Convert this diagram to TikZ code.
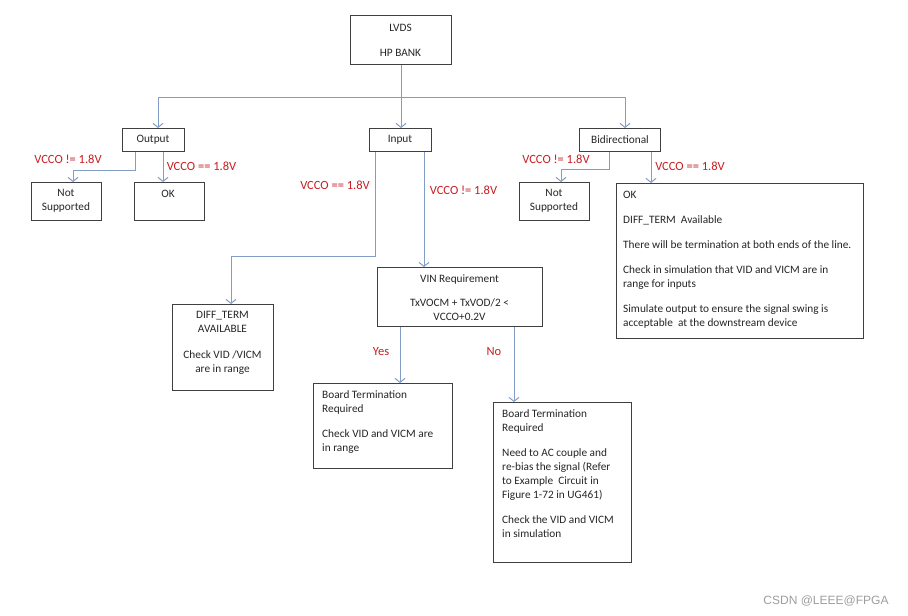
\documentclass[tikz,border=0pt]{standalone}
\usepackage{fontspec}
\setmainfont{Carlito}
\newfontfamily\wmfont{Liberation Sans}
\usetikzlibrary{arrows.meta}
\definecolor{conncol}{RGB}{130,158,198}
\definecolor{labred}{RGB}{200,30,35}
\definecolor{boxline}{RGB}{64,64,64}
\tikzset{
  box/.style={draw=boxline, line width=1pt, rectangle, inner sep=0pt, anchor=north west},
  conn/.style={draw=conncol, line width=1pt, -{Straight Barb[length=4pt,width=10pt,line width=1pt]}},
  plain/.style={draw=conncol, line width=1pt},
  txt/.style={font=\fontsize{11.3}{14}\selectfont, inner sep=0pt, text=black!85},
  ctxt/.style={txt, align=center},
  ltxt/.style={txt, align=left, anchor=north west},
  lab/.style={font=\fontsize{12.5}{14}\selectfont, text=labred, inner sep=0pt},
}
\begin{document}
\begin{tikzpicture}[x=1pt,y=-1pt]
\useasboundingbox[fill=white] (0,0) rectangle (908,616);

% boxes
\node[box, minimum width=101pt, minimum height=49pt] (lvds) at (350,15) {};
\node[box, minimum width=62pt, minimum height=23pt] (out) at (122,128) {};
\node[box, minimum width=62pt, minimum height=23pt] (inp) at (369,128) {};
\node[box, minimum width=81pt, minimum height=23pt] (bid) at (579,128) {};
\node[box, minimum width=70pt, minimum height=38pt] (ns1) at (31,182) {};
\node[box, minimum width=70pt, minimum height=38pt] (ok1) at (134,182) {};
\node[box, minimum width=70pt, minimum height=38pt] (ns2) at (519,182) {};
\node[box, minimum width=247pt, minimum height=155pt] (ok2) at (616,183) {};
\node[box, minimum width=101pt, minimum height=86pt] (diff) at (172,304) {};
\node[box, minimum width=165pt, minimum height=59pt] (vin) at (377,267) {};
\node[box, minimum width=139pt, minimum height=85pt] (bty) at (313,383) {};
\node[box, minimum width=138pt, minimum height=160pt] (btn) at (493,402) {};

% texts
\node[ctxt] (tlvds1) at (400.5,28) {LVDS};
\node[ctxt] (tlvds2) at (400.5,53) {HP BANK};
\node[ctxt] (tout) at (153,140) {Output};
\node[ctxt] (tinp) at (400,140) {Input};
\node[ctxt] (tbid) at (620,140) {Bidirectional};
\node[ctxt, anchor=north] (tns1) at (66,189.5) {Not\\Supported};
\node[ctxt, anchor=north] (tok1) at (168,189.5) {OK};
\node[ctxt, anchor=north] (tns2) at (554,189.5) {Not\\Supported};
\node[ltxt] (tok2) at (623,190.5) {OK\\[11pt]DIFF\_TERM\ \ Available\\[11pt]There\ will be termination at both ends of the line.\\[11pt]Check in simulation that VID and VICM are in\\range for inputs\\[11pt]Simulate output to ensure the signal swing is\\acceptable\ \ at the downstream device};
\node[ctxt, anchor=north] (tdiff) at (222.5,311.5) {DIFF\_TERM\\AVAILABLE\\[12pt]Check VID /VICM\\are in range};
\node[ctxt, anchor=north] (tvin) at (459.5,274.5) {VIN Requirement\\[10pt]TxVOCM + TxVOD/2 {<}\\VCCO+0.2V};
\node[ltxt] (tbty) at (322,390.5) {Board Termination\\Required\\[11pt]Check VID and VICM are\\in range};
\node[ltxt] (tbtn) at (502,409.5) {Board Termination\\Required\\[11pt]Need to AC couple and\\re-bias the signal (Refer\\to Example\ \ Circuit in\\Figure 1-72 in UG461)\\[11pt]Check the VID and VICM\\in simulation};

% coordinates for connector x positions
\coordinate (xout) at (158,0);
\coordinate (xbid) at (625,0);
\coordinate (xlvds) at (401,0);
\coordinate (xo1) at (135,0);
\coordinate (xns1) at (73,0);
\coordinate (xo2) at (163,0);
\coordinate (xi1) at (375,0);
\coordinate (xdiff) at (231,0);
\coordinate (xi2) at (424,0);
\coordinate (xb1) at (609,0);
\coordinate (xns2) at (561,0);
\coordinate (xb2) at (651,0);
\coordinate (xy) at (400,0);
\coordinate (xn) at (514,0);
\coordinate (ytop) at (0,97);
\coordinate (yo) at (0,170);
\coordinate (yb) at (0,169);
\coordinate (yi) at (0,256);

% connectors
\draw[conn] (lvds.south -| xlvds) -- (inp.north -| xlvds);
\draw[plain] (ytop -| xout) -- (ytop -| xbid);
\draw[conn] (ytop -| xout) -- (out.north -| xout);
\draw[conn] (ytop -| xbid) -- (bid.north -| xbid);
\draw[conn] (out.south -| xo1) -- (yo -| xo1) -- (yo -| xns1) -- (ns1.north -| xns1);
\draw[conn] (out.south -| xo2) -- (ok1.north -| xo2);
\draw[conn] (inp.south -| xi1) -- (yi -| xi1) -- (yi -| xdiff) -- (diff.north -| xdiff);
\draw[conn] (inp.south -| xi2) -- (vin.north -| xi2);
\draw[conn] (bid.south -| xb1) -- (yb -| xb1) -- (yb -| xns2) -- (ns2.north -| xns2);
\draw[conn] (bid.south -| xb2) -- (ok2.north -| xb2);
\draw[conn] (vin.south -| xy) -- (bty.north -| xy);
\draw[conn] (vin.south -| xn) -- (btn.north -| xn);

% labels
\node[lab] (l1) at (68,159.5) {VCCO != 1.8V};
\node[lab] (l2) at (201.5,166.5) {VCCO == 1.8V};
\node[lab] (l3) at (335,185.5) {VCCO == 1.8V};
\node[lab] (l4) at (463.5,190.5) {VCCO != 1.8V};
\node[lab] (l5) at (556,159.5) {VCCO != 1.8V};
\node[lab] (l6) at (690,166.5) {VCCO == 1.8V};
\node[lab] (l7) at (381,351.5) {Yes};
\node[lab] (l8) at (494,351.5) {No};

% watermark
\node[font=\wmfont\fontsize{12}{14}\selectfont, text=black!38, inner sep=0pt] (wm) at (826,601) {CSDN @LEEE@FPGA};
\end{tikzpicture}
\end{document}
